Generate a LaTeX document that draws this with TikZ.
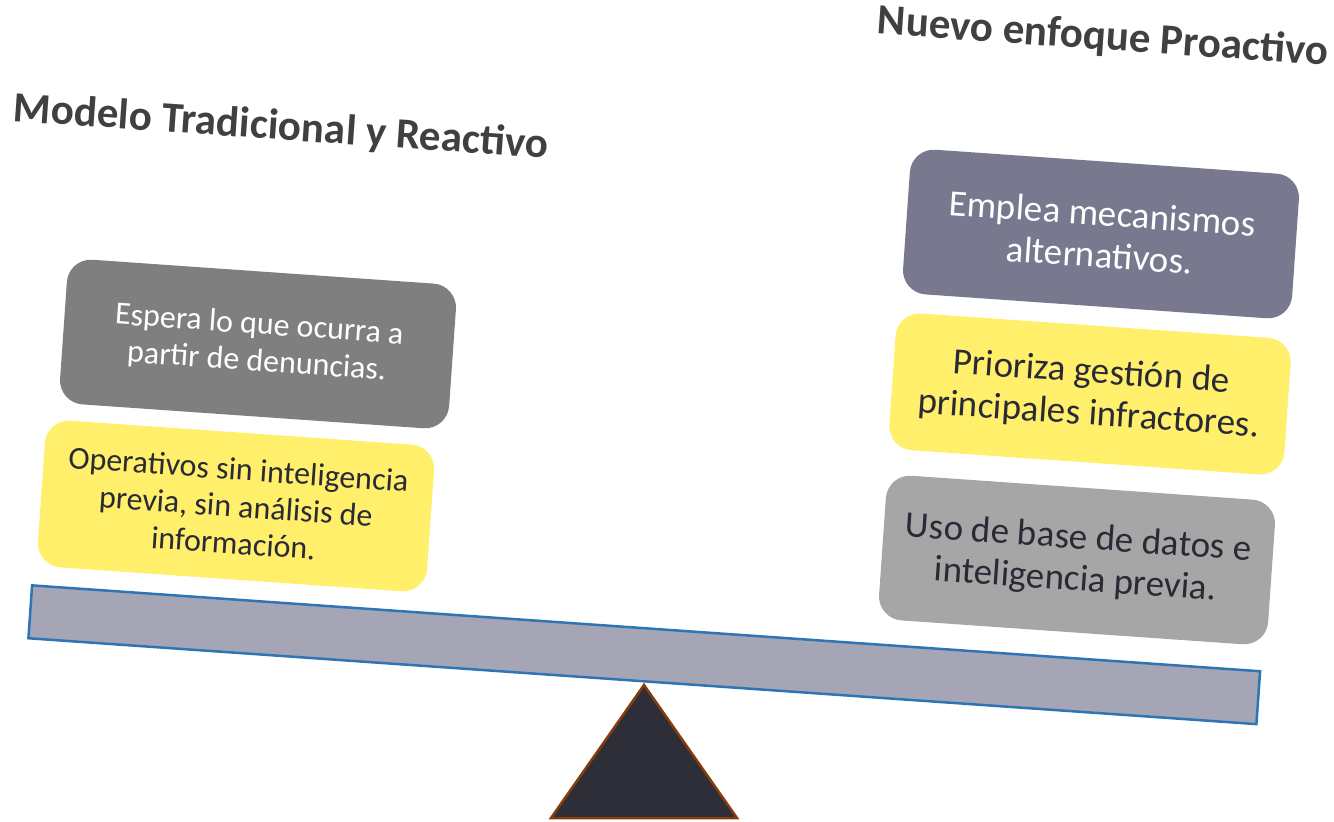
\documentclass[tikz,border=0pt]{standalone}
\usepackage{fontspec}
\setmainfont{Carlito}
\definecolor{ttl}{HTML}{404040}
\definecolor{dgray}{HTML}{7F7F7F}
\definecolor{lgray}{HTML}{A6A6A6}
\definecolor{purp}{HTML}{78788F}
\definecolor{yel}{HTML}{FFEF6A}
\definecolor{dtext}{HTML}{2A2A36}
\definecolor{beamfill}{HTML}{A5A5B5}
\definecolor{beamline}{HTML}{2E75B6}
\definecolor{trifill}{HTML}{2E2E38}
\definecolor{triline}{HTML}{843C0C}
\tikzset{
  card/.style={rounded corners=24pt, minimum width=390pt, minimum height=145pt,
    align=center, inner sep=0pt, rotate=-4},
  smalltxt/.style={font=\fontsize{32}{37}\selectfont},
  bigtxt/.style={font=\fontsize{37}{42}\selectfont},
  ttlstyle/.style={font=\fontsize{43}{48}\selectfont\bfseries, text=ttl, rotate=-4, inner sep=0pt},
}
\begin{document}
\begin{tikzpicture}[x=1pt,y=1pt]
\useasboundingbox (0,0) rectangle (1334,-822);
% titles
\node[ttlstyle] (t1) at (281,-128) {Modelo Tradicional y Reactivo};
\node[ttlstyle] (t2) at (1103,-38) {Nuevo enfoque Proactivo};
% left cards
\node[card, smalltxt, fill=dgray, text=white] (l1) at (258,-344) {Espera lo que ocurra a\\partir de denuncias.};
\node[card, smalltxt, fill=yel, text=dtext, minimum height=147pt] (l2) at (236,-506) {Operativos sin inteligencia\\previa, sin análisis de\\información.};
% right cards
\node[card, bigtxt, fill=purp, text=white] (r1) at (1101,-234) {Emplea mecanismos\\alternativos.};
\node[card, bigtxt, fill=yel, text=dtext, minimum width=396pt, minimum height=137pt] (r2) at (1090,-394) {Prioriza gestión de\\principales infractores.};
\node[card, bigtxt, fill=lgray, text=dtext] (r3) at (1077,-560) {Uso de base de datos e\\inteligencia previa.};
% beam
\node[draw=beamline, line width=2.5pt, fill=beamfill, minimum width=1231pt, minimum height=53pt, inner sep=0pt, rotate=-4] (beam) at (644.25,-654.75) {};
% fulcrum
\coordinate (apex) at (644,-685);
\coordinate (bl) at (551,-818);
\coordinate (br) at (737,-818);
\draw[draw=triline, line width=2.5pt, fill=trifill, line join=miter] (apex) -- (br) -- (bl) -- cycle;
\end{tikzpicture}
\end{document}
